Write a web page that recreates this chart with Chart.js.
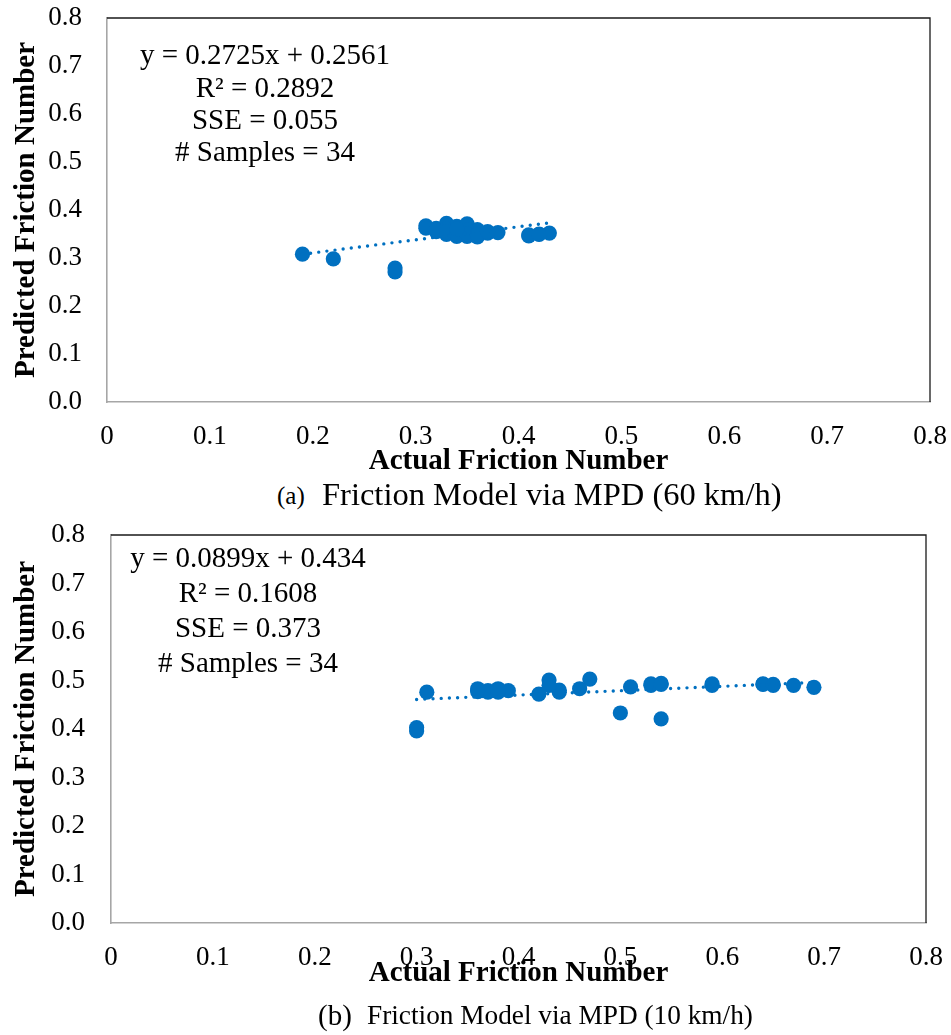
<!DOCTYPE html>
<html><head><meta charset="utf-8">
<script src="https://cdn.jsdelivr.net/npm/chart.js@4.4.0/dist/chart.umd.min.js"></script>
<style>
html,body{margin:0;padding:0;background:#fff;}
#page{position:relative;width:951px;height:1035px;overflow:hidden;font-family:"Liberation Serif","Times New Roman",serif;color:#000;background:#fff;}
canvas{position:absolute;left:0;}
.ann{position:absolute;transform:translate(-50%,-50%);white-space:nowrap;font-size:29px;line-height:1;}
.cap{position:absolute;transform:translateY(-50%);white-space:nowrap;line-height:1;}
</style></head>
<body><div id="page">
<canvas id="c1" width="951" height="480" style="top:0px"></canvas>
<canvas id="c2" width="951" height="485" style="top:515px"></canvas>
</div>
<script>
// ---------- data ----------
const xTickLabels = ['0','0.1','0.2','0.3','0.4','0.5','0.6','0.7','0.8'];
const yTickLabels = ['0.0','0.1','0.2','0.3','0.4','0.5','0.6','0.7','0.8'];

const topActual = [0.19,0.22,0.28,0.28,0.31,0.32,0.33,0.33,0.34,0.34,0.35,0.35,0.36,0.36,0.37,0.38,0.41,0.42,0.43,
                   0.31,0.32,0.32,0.33,0.33,0.34,0.34,0.35,0.35,0.36,0.36,0.37,0.34,0.41,0.42];
const topPredicted = [0.308,0.298,0.279,0.271,0.367,0.362,0.372,0.349,0.345,0.366,0.371,0.345,0.344,0.359,0.352,0.353,0.346,0.350,0.352,
                   0.362,0.355,0.358,0.360,0.355,0.355,0.350,0.358,0.350,0.350,0.348,0.355,0.360,0.348,0.349];
const topTrend = [0.2725, 0.2561];       // slope, intercept
const topTrendRange = [0.19, 0.43];
const topStats = ['y = 0.2725x + 0.2561','R² = 0.2892','SSE = 0.055','# Samples = 34'];

const botActual = [0.30,0.30,0.31,0.36,0.37,0.38,0.39,0.42,0.43,0.44,0.46,0.47,0.50,0.51,0.53,0.54,0.54,0.59,0.64,0.65,0.67,0.69,
                   0.36,0.37,0.38,0.38,0.44,0.43,0.53,0.54,0.64,0.65,0.36,0.59];
const botPredicted = [0.403,0.396,0.476,0.483,0.479,0.483,0.479,0.472,0.501,0.476,0.483,0.503,0.433,0.487,0.493,0.494,0.421,0.493,0.493,0.492,0.490,0.486,
                   0.477,0.476,0.476,0.480,0.480,0.490,0.490,0.492,0.492,0.490,0.480,0.490];
const botTrend = [0.0899, 0.434];
const botTrendRange = [0.30, 0.69];
const botStats = ['y = 0.0899x + 0.434','R² = 0.1608','SSE = 0.373','# Samples = 34'];

const xTitle = 'Actual Friction Number';
const yTitle = 'Predicted Friction Number';

// ---------- drawing ----------
const FONT = '"Liberation Serif","Times New Roman",serif';
const BLUE = '#0070C0';

const framePlugin = {
  id:'frame',
  afterDatasetsDraw(chart){
    const {ctx, chartArea:a} = chart;
    ctx.save();
    ctx.strokeStyle = '#1a1a1a';
    ctx.lineWidth = 1.3;
    ctx.beginPath();
    ctx.moveTo(a.left, a.top);
    ctx.lineTo(a.right, a.top);
    ctx.lineTo(a.right, a.bottom);
    ctx.stroke();
    ctx.restore();
  }
};

function zeroPad(s){ s.paddingTop = 0; s.paddingBottom = 0; s.paddingLeft = 0; s.paddingRight = 0; }

function makeChart(id, actual, predicted, trend, range, o){
  const pts = actual.map((x,i)=>({x:x, y:predicted[i]}));
  const line = range.map(x=>({x:x, y:trend[0]*x+trend[1]}));
  return new Chart(document.getElementById(id), {
    type:'scatter',
    data:{datasets:[
      {type:'line', data:line, borderColor:BLUE, borderWidth:3.4, borderDash:[0,8.2], borderCapStyle:'round',
       pointRadius:0, fill:false, showLine:true, order:0},
      {data:pts, backgroundColor:BLUE, borderColor:BLUE, borderWidth:0, pointRadius:7.6, pointHoverRadius:7.6, order:1}
    ]},
    options:{
      responsive:false, animation:false, events:[],
      plugins:{legend:{display:false}, tooltip:{enabled:false}},
      layout:{padding:{top:o.padTop, right:o.padRight, bottom:0, left:0}},
      scales:{
        x:{type:'linear', min:0, max:0.8,
           ticks:{stepSize:0.1, padding:o.xTickPad, color:'#000', font:{family:FONT, size:27},
                  maxRotation:0, autoSkip:false, callback:(v,i)=>xTickLabels[i]},
           grid:{display:false, drawTicks:false},
           border:{display:true, color:'#A6A6A6', width:1.6},
           title:{display:true, text:xTitle, color:'#000', font:{family:FONT, size:29, weight:'bold'},
                  padding:{top:0, bottom:o.xTitlePadBottom}},
           afterFit:s=>{s.height = o.xHeight; zeroPad(s);}
        },
        y:{type:'linear', min:0, max:0.8,
           ticks:{stepSize:0.1, padding:o.yTickPad, color:'#000', font:{family:FONT, size:27},
                  autoSkip:false, callback:(v,i)=>yTickLabels[i]},
           grid:{display:false, drawTicks:false},
           border:{display:true, color:'#A6A6A6', width:1.6},
           title:{display:true, text:yTitle, color:'#000', font:{family:FONT, size:29, weight:'bold'},
                  padding:{top:o.yTitlePadTop, bottom:0}},
           afterFit:s=>{s.width = o.yWidth; zeroPad(s);}
        }
      }
    },
    plugins:[framePlugin]
  });
}

makeChart('c1', topActual, topPredicted, topTrend, topTrendRange,
  {padTop:18, padRight:21, xTickPad:19, xTitlePadBottom:1, xHeight:78, yTickPad:25, yTitlePadTop:9, yWidth:107});
makeChart('c2', botActual, botPredicted, botTrend, botTrendRange,
  {padTop:20, padRight:25, xTickPad:19, xTitlePadBottom:9, xHeight:77, yTickPad:26, yTitlePadTop:9, yWidth:111});

// annotations and captions
const page = document.getElementById('page');
function addText(txt, cls, x, y, size){
  const d = document.createElement('div');
  d.className = cls; d.textContent = txt;
  d.style.left = x+'px'; d.style.top = y+'px';
  if(size) d.style.fontSize = size+'px';
  page.appendChild(d);
  return d;
}
const topY = [54, 87, 119, 151];
topStats.forEach((t,i)=>addText(t,'ann',265,topY[i]));
const botY = [557, 592, 627, 662];
botStats.forEach((t,i)=>addText(t,'ann',248,botY[i]));

addText('(a)','cap',277,495,25);
addText('Friction Model via MPD (60 km/h)','cap',322,494,32.5);
addText('(b)','cap',318,1015,29);
addText('Friction Model via MPD (10 km/h)','cap',367,1016,27.3);
</script>
</body></html>
